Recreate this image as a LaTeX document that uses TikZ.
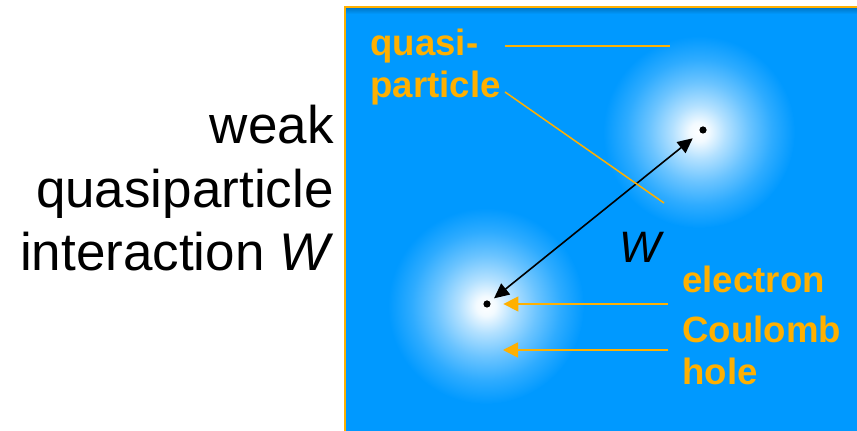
\documentclass[tikz,border=0pt]{standalone}
\usepackage{fontspec}
\setmainfont{Liberation Sans}
\usetikzlibrary{arrows.meta}
\definecolor{bgblue}{RGB}{0,153,255}
\definecolor{qporange}{RGB}{255,176,0}
\pgfdeclareradialshading{glow}{\pgfpoint{0bp}{0bp}}{%
  color(0bp)=(white); color(2.5bp)=(white!95!bgblue); color(7bp)=(white!70!bgblue);
  color(13bp)=(white!42!bgblue); color(19bp)=(white!18!bgblue);
  color(25bp)=(bgblue); color(50bp)=(bgblue)}

\begin{document}
\begin{tikzpicture}[x=0.5pt, y=-0.5pt,
  dot/.style={circle, fill=black, inner sep=0pt, minimum size=3.6pt},
  lbl/.style={text=qporange, font=\fontsize{18.3}{21}\selectfont\bfseries,
              inner sep=0pt, align=left},
  pointer/.style={draw=qporange, line width=0.75pt},
  orarrow/.style={pointer, -{Triangle[length=7.5pt, width=7.5pt]}},
  warrow/.style={black, line width=0.8pt,
                 {Triangle[length=7.5pt, width=7pt]}-{Triangle[length=7.5pt, width=7pt]}}
]
\useasboundingbox (0,0) rectangle (857,431);

\fill[bgblue] (345,7) rectangle (857,431);
\shade[top color=bgblue!75!black, bottom color=bgblue] (345,7) rectangle (857,14);
\draw[qporange, line width=1pt] (345,431) -- (345,7) -- (857,7);

\shade[shading=glow] (699,132) circle (48pt);
\shade[shading=glow] (486,306) circle (49pt);

\node[anchor=north east, inner sep=0pt, align=right,
      font=\fontsize{26.5}{31.75}\selectfont] (title) at (334,105)
  {weak\\quasiparticle\\interaction \textit{W}};

\node[dot] (qpB) at (703,130) {};
\node[dot] (qpA) at (487,304) {};

\draw[warrow, shorten <=2.5pt, shorten >=4.6pt] (qpA) -- (qpB);
\node[anchor=base, inner sep=0pt, font=\fontsize{22}{26}\selectfont\itshape]
  (wlbl) at (640,263) {W};

\node[lbl, anchor=north west] (quasi) at (370,29) {quasi-\\particle};
\coordinate (qA) at (505,46);
\coordinate (qB) at (670,46);
\coordinate (qC) at (505,92);
\coordinate (qD) at (664,203);
\draw[pointer] (qA) -- (qB);
\draw[pointer] (qC) -- (qD);

\node[lbl, anchor=base west] (elec) at (682,293) {electron};
\node[lbl, anchor=north west] (chole) at (682,316) {Coulomb\\hole};
\coordinate (eA) at (668,304);
\coordinate (hA) at (668,350);
\coordinate (hB) at (503,350);
\draw[orarrow, shorten >=6.2pt] (eA) -- (qpA);
\draw[orarrow] (hA) -- (hB);
\end{tikzpicture}
\end{document}
